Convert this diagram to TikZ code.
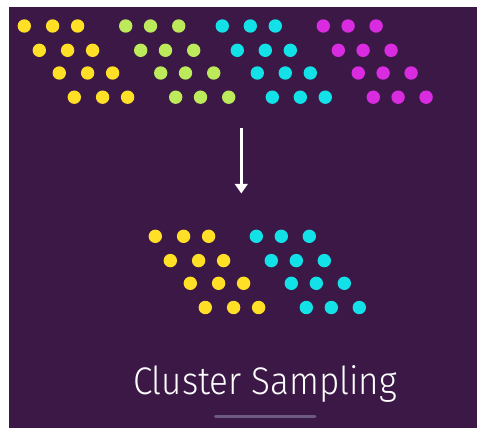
\documentclass[tikz,border=0pt]{standalone}
\usepackage{fontspec}
\newfontfamily\titlefont{Fira Sans}[UprightFont={* Light}]
\usetikzlibrary{arrows.meta}
\definecolor{bgpurple}{HTML}{3B1846}
\definecolor{dyellow}{HTML}{FFE027}
\definecolor{dgreen}{HTML}{BDEA5A}
\definecolor{dcyan}{HTML}{12E2E8}
\definecolor{dmagenta}{HTML}{D92BE0}
\definecolor{barcol}{HTML}{6D5A80}
\tikzset{
  dot/.style={circle, inner sep=0pt, minimum size=13.4pt, draw=none},
  flowarrow/.style={draw=white, line width=2.6pt, -{Triangle[width=12.5pt,length=9.5pt]}},
  title/.style={text=white, font=\titlefont\fontsize{38.5}{44}\selectfont, inner sep=0pt},
  handle/.style={draw=barcol, line width=3pt, line cap=round}
}
\newcommand\dotcluster[6]{%
  \foreach \r/\dx/\dy in {1/0/0,2/15/24.3,3/35/47,4/50/71.2}{
    \node[dot,fill=#2] (#1-\r-1) at (#3+\dx, #4+\dy) {};
    \node[dot,fill=#2] (#1-\r-2) at (#3+\dx+#5, #4+\dy) {};
    \node[dot,fill=#2] (#1-\r-3) at (#3+\dx+#5+#6, #4+\dy) {};
  }}
\begin{document}
\begin{tikzpicture}[x=1pt,y=-1pt]
\useasboundingbox (0,0) rectangle (480,430);
\fill[white] (0,0) rectangle (480,430);
\fill[bgpurple] (9,7) rectangle (477,428);
% top clusters
\dotcluster{ty}{dyellow}{24.3}{26}{28.3}{25}
\dotcluster{tg}{dgreen}{125.7}{26}{24.8}{28.2}
\dotcluster{tc}{dcyan}{222.3}{26}{28}{25}
\dotcluster{tm}{dmagenta}{323.3}{26}{24.8}{28}
% arrow
\coordinate (arrtop) at (241.3,128.3);
\coordinate (arrbot) at (241.3,193.5);
\draw[flowarrow] (arrtop) -- (arrbot);
% bottom clusters
\dotcluster{by}{dyellow}{155.3}{236.3}{28.3}{25}
\dotcluster{bc}{dcyan}{256.3}{236.3}{25}{28}
% title
\node[title, anchor=base] (ttl) at (265,394.3) {\scalebox{0.91}[1]{Cluster Sampling}};
% handle bar
\coordinate (h1) at (215.5,417);
\coordinate (h2) at (315,417);
\draw[handle] (h1) -- (h2);
\end{tikzpicture}
\end{document}
